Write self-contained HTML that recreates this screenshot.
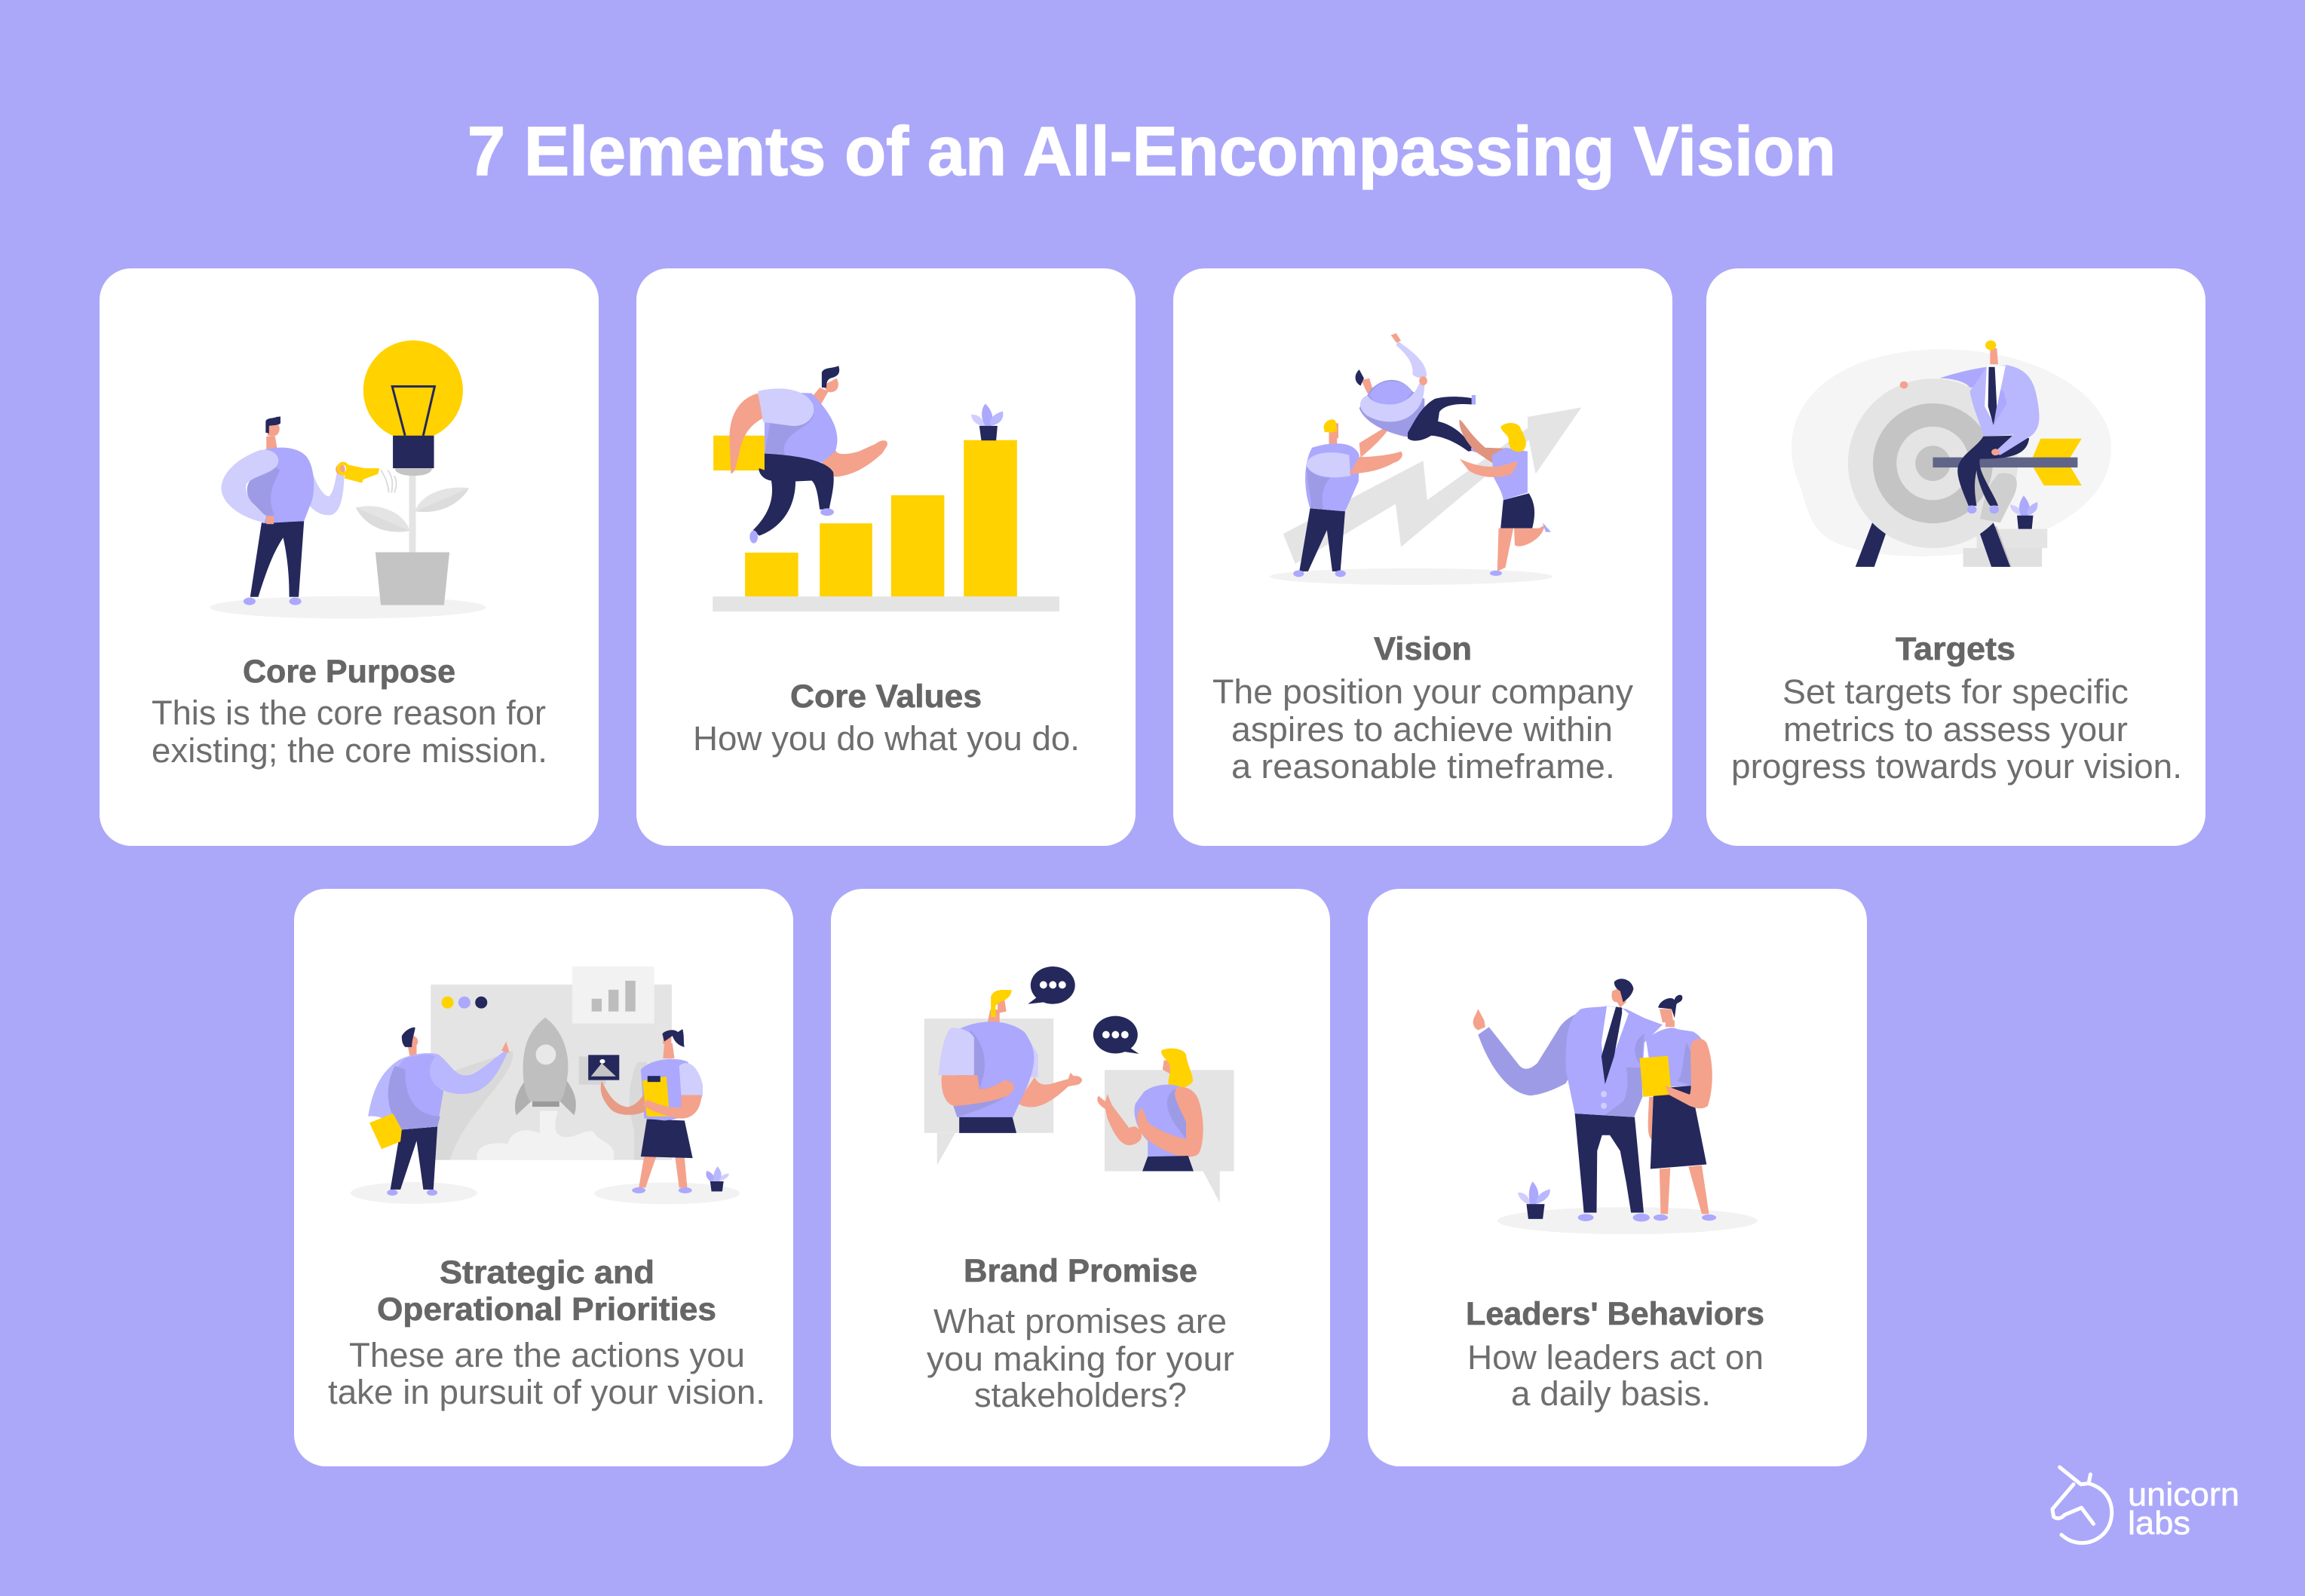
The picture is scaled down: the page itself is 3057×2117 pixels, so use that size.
<!DOCTYPE html>
<html><head><meta charset="utf-8"><title>7 Elements of an All-Encompassing Vision</title>
<style>
html,body{margin:0;padding:0;background:#aba8fa}
svg{display:block}
.h{font:bold 43px "Liberation Sans",sans-serif;fill:#666;stroke:#666;stroke-width:.7px}
.b{font:45px "Liberation Sans",sans-serif;fill:#6e6e6e}
.l{font:44px "Liberation Sans",sans-serif;fill:#fff;stroke:#fff;stroke-width:.6px}
.y{fill:#ffd200}.n{fill:#24285b}.v{fill:#aba8fd}.w{fill:#d0cefd}.m{fill:#b9b7fe}.s{fill:#9e9be6}.k{fill:#f4a28c}
.g1{fill:#f2f2f2}.g2{fill:#e4e4e4}.g3{fill:#c4c4c4}
</style></head>
<body>
<svg xmlns="http://www.w3.org/2000/svg" width="3057" height="2117" viewBox="0 0 3057 2117">
<rect width="3057" height="2117" fill="#aba8fa"/>
<text x="620" y="232" font-family="Liberation Sans,sans-serif" font-weight="bold" font-size="92" fill="#fff" stroke="#fff" stroke-width="1.5" textLength="1815" lengthAdjust="spacingAndGlyphs">7 Elements of an All-Encompassing Vision</text>

<g fill="#fff">
<rect x="132" y="356" width="662" height="766" rx="42"/>
<rect x="844" y="356" width="662" height="766" rx="42"/>
<rect x="1556" y="356" width="662" height="766" rx="42"/>
<rect x="2263" y="356" width="662" height="766" rx="42"/>
<rect x="390" y="1179" width="662" height="766" rx="42"/>
<rect x="1102" y="1179" width="662" height="766" rx="42"/>
<rect x="1814" y="1179" width="662" height="766" rx="42"/>
</g>

<!-- cards 1 & 2 -->
<g transform="translate(130,350) scale(.8929,.4974)">
<ellipse class="g1" cx="371" cy="916" rx="205" ry="30"/>
<rect class="g2" x="462" y="560" width="10" height="210"/>
<polygon class="g3" points="412,769 522,769 514,910 420,910"/>
<path fill="#dcdcdc" d="M471,660C478,620 510,590 551,598C540,635 510,670 471,660z"/>
<path class="g2" d="M471,660L551,598C510,590 478,620 471,660z"/>
<path fill="#dcdcdc" d="M383,650C420,635 455,665 463,712C425,725 395,695 383,650z"/>
<path class="g2" d="M383,650C420,635 455,665 463,712z"/>
<ellipse class="y" cx="468" cy="337" rx="74" ry="133"/>
<path d="M456,458L437,327H500L483,458" fill="none" stroke="#24285b" stroke-width="3" vector-effect="non-scaling-stroke"/>
<rect class="n" x="438" y="458" width="61" height="87"/>
<path class="g3" d="M441,545h55c0,12-10,20-27,20c-17,0-28-8-28-20z"/>
<g fill="none" stroke="#d8d8d8" stroke-width="2" vector-effect="non-scaling-stroke"><path d="M420,550q10,25 12,60"/><path d="M430,550q10,20 6,60"/><path d="M440,565q6,20 0,45"/></g>
<polygon class="k" points="250,460 263,460 266,492 250,497"/>
<path class="k" d="M252,430h16c3,8 2,22-4,28c-4,4-8,2-12,0z"/>
<path class="n" d="M249,450V420C250,410 262,412 265,408L271,407V425C268,432 258,430 254,432V452z"/>
<path class="w" d="M318,555C325,590 335,620 343,620C350,610 352,580 355,555L366,555C365,610 362,665 345,670C330,672 318,655 312,640z"/>
<path class="n" d="M243,690L306,686L298,888H284C284,820 280,770 275,730C260,770 250,820 238,888H226z"/>
<ellipse class="v" cx="225" cy="900" rx="9" ry="10"/><ellipse class="v" cx="293" cy="900" rx="9" ry="10"/>
<path class="v" d="M245,497C265,485 300,485 312,520C322,550 322,600 318,630L306,686L245,692z"/>
<path class="s" d="M262,540C225,560 215,590 225,630L250,675L262,670C250,620 260,590 270,550z"/>
<path class="w" d="M240,497C205,520 183,560 183,600C185,640 210,675 247,690L250,672C225,640 218,610 220,590C225,565 268,560 268,525C268,505 255,492 240,497z"/>
<rect class="k" x="250" y="672" width="11" height="22"/>
<ellipse class="k" cx="360" cy="548" rx="7" ry="14"/>
<ellipse cx="364" cy="546" rx="7" ry="14" fill="none" stroke="#ffd200" stroke-width="4" vector-effect="non-scaling-stroke"/>
<polygon class="y" points="370,535 396,545 418,545 416,560 394,575 392,584 366,572"/>

<rect class="g2" x="913" y="887" width="515" height="40"/>
<rect class="y" x="961" y="770" width="79" height="117"/>
<rect class="y" x="1072" y="692" width="78" height="195"/>
<rect class="y" x="1178" y="617" width="79" height="270"/>
<rect class="y" x="1286" y="470" width="79" height="417"/>
<path class="w" d="M1312,432C1300,425 1297,410 1297,402C1308,400 1315,415 1318,432z"/>
<path class="v" d="M1318,432C1310,410 1312,385 1318,373C1328,390 1332,415 1326,432z"/>
<path class="m" d="M1326,432C1345,425 1345,405 1344,393C1330,400 1322,415 1326,432z"/>
<polygon class="n" points="1309,432 1336,432 1334,471 1312,471"/>
<rect class="y" x="914" y="458" width="76" height="93"/>
<path class="k" d="M980,345C950,360 937,410 938,470L940,560C948,555 948,530 952,510C955,470 965,430 990,410z"/>
<path class="k" d="M1075,530C1085,515 1092,505 1095,495C1097,510 1110,510 1130,500L1155,480C1165,465 1175,470 1172,485L1165,505C1150,530 1125,565 1095,568L1085,560z"/>
<polygon class="k" points="1072,330 1085,340 1072,380 1058,360"/>
<path class="k" d="M1076,325L1097,305C1102,320 1100,340 1090,342C1082,345 1080,330 1076,325z"/>
<path class="n" d="M1075,330V290C1078,275 1090,280 1100,272C1103,290 1100,300 1088,305C1082,310 1082,320 1082,330z"/>
<path class="v" d="M985,340L1060,345C1090,400 1105,450 1095,500L1075,530L990,510V420z"/>
<path class="s" d="M998,425L990,510H1020C1015,470 1030,455 1055,425C1060,415 1065,405 1062,395C1055,425 1020,430 998,425z"/>
<path class="w" d="M980,340C1010,325 1050,330 1062,375C1068,410 1050,435 1030,432L988,422z"/>
<path class="n" d="M990,506C1030,510 1080,520 1092,555C1095,590 1088,630 1086,655H1072C1070,630 1068,590 1060,578L1036,580C1036,640 1020,700 982,725L973,710C995,670 1005,630 1000,578C985,575 980,550 982,545L990,550z"/>
<ellipse class="v" cx="1083" cy="662" rx="10" ry="10"/><ellipse class="v" cx="974" cy="728" rx="6" ry="17"/>
</g>

<!-- cards 3 & 4 -->
<g transform="translate(1550,350) scale(.8929,.4974)">
<ellipse class="g1" cx="360" cy="834" rx="210" ry="22"/>
<polygon class="g2" points="188,800 170,720 378,525 384,630 533,438 533,408 613,383 545,560 535,470 345,755 337,640"/>
<polygon class="n" points="210,652 262,660 255,820 243,820 235,710 207,820 194,820"/>
<ellipse class="v" cx="193" cy="826" rx="8" ry="9"/><ellipse class="v" cx="255" cy="826" rx="8" ry="9"/>
<path class="k" d="M283,478L322,435L325,445C310,480 295,500 285,517z"/>
<rect class="k" x="238" y="440" width="12" height="45"/>
<path class="k" d="M238,425h14v40h-14z"/>
<path class="y" d="M230,435C232,415 245,410 248,420L250,445C240,455 235,445 232,450z"/>
<path class="v" d="M213,490C240,475 275,470 283,510L282,580L262,660L210,652C200,600 200,530 213,490z"/>
<path class="s" d="M205,540C205,600 215,630 210,652L230,655C225,620 230,590 240,570C220,570 210,555 205,540z"/>
<path class="w" d="M205,530C210,505 240,495 268,510L270,565C245,575 215,570 205,540z"/>
<path class="k" d="M283,515C300,515 330,510 345,500C350,510 345,525 335,530C315,550 295,558 268,560z"/>
<path class="w" d="M340,205C355,225 385,260 383,300C375,310 365,300 362,295C365,265 350,235 338,218z"/>
<path class="k" d="M330,190L338,185L345,205L338,210z"/>
<path class="k" d="M286,310L298,305L305,345L295,345z"/>
<path class="n" d="M283,282C275,295 275,315 285,325L290,305z"/>
<path class="s" d="M300,335C320,300 345,300 362,340L380,360V380C375,410 365,450 355,462C320,450 290,420 283,385z"/>
<path class="v" d="M298,350C310,305 345,300 362,340L345,380L310,380z"/>
<path class="w" d="M295,350C282,360 280,385 295,405C320,430 350,425 365,395C378,375 380,340 380,320H372C365,350 350,375 330,375C310,375 300,365 295,350z"/>
<ellipse class="k" cx="378" cy="312" rx="6" ry="12"/>
<path class="n" d="M355,450C365,420 375,380 395,360C415,350 440,355 450,358V375C430,372 410,375 402,395L400,420C425,430 445,465 452,498L445,500C430,480 410,460 390,458C375,475 360,475 355,465z"/>
<rect class="v" x="450" y="350" width="6" height="25"/><ellipse class="v" cx="456" cy="494" rx="7" ry="8"/>
<path fill="#e0937e" d="M432,415C440,425 445,450 470,490L500,492L480,530L455,500C440,470 430,440 432,415z"/>
<path class="k" d="M490,705H512L500,810L488,820z"/>
<path class="k" d="M513,705H550L560,695L555,715C545,745 520,760 514,750z"/>
<ellipse class="v" cx="486" cy="825" rx="9" ry="7"/><path class="v" d="M555,690L568,715H560z"/>
<path class="v" d="M480,510L500,490L533,500V610L497,630C495,600 480,570 482,560z"/>
<path class="n" d="M497,630L535,612C545,640 545,670 540,705H493z"/>
<path class="k" d="M432,520C445,530 465,545 490,540L510,530C525,520 515,540 510,560C490,575 460,570 445,550z"/>
<path class="k" d="M505,440h12v40h-12z"/>
<path class="y" d="M493,435C500,420 520,420 523,440C530,465 535,485 525,500C510,505 505,490 505,470C505,455 495,450 493,435z"/>

<path fill="#f5f5f5" d="M925,490C925,340 1010,228 1150,228C1290,228 1400,350 1400,490C1400,610 1340,700 1240,750C1170,790 1060,790 1000,750C950,720 950,650 935,580C928,550 925,520 925,490z"/>
<rect class="g2" x="1200" y="707" width="105" height="51"/>
<rect fill="#e0e0e0" x="1180" y="758" width="117" height="50"/>
<polygon class="g3" points="1210,700 1230,700 1252,808 1228,808"/>
<path class="n" d="M1045,690L1065,720L1048,808H1020z"/>
<path class="n" d="M1225,690L1205,720L1222,808H1250z"/>
<ellipse class="g2" cx="1135" cy="532" rx="126" ry="226"/>
<ellipse class="g3" cx="1135" cy="532" rx="89" ry="160"/>
<ellipse class="g2" cx="1135" cy="532" rx="54" ry="98"/>
<ellipse class="g3" cx="1135" cy="532" rx="26" ry="47"/>
<path fill="#cfcfcf" d="M1232,560C1260,550 1265,580 1255,620L1235,690L1205,680L1215,600z"/>
<polygon class="y" points="1295,466 1356,466 1335,528 1356,591 1300,591 1280,530"/>
<rect fill="#606488" x="1135" y="516" width="215" height="27"/>
<ellipse class="k" cx="1092" cy="323" rx="6" ry="10"/>
<path class="n" d="M1210,460L1255,458L1278,465C1275,510 1250,520 1205,520C1200,550 1225,610 1232,645H1220C1210,620 1200,570 1200,550C1195,590 1198,620 1200,645H1188C1180,610 1170,570 1172,545C1175,510 1200,490 1210,460z"/>
<ellipse class="v" cx="1193" cy="655" rx="7" ry="11"/><ellipse class="v" cx="1226" cy="655" rx="7" ry="11"/>
<path class="v" d="M1145,305C1170,290 1195,280 1215,275L1210,330H1190C1185,315 1165,305 1145,305z"/>
<path class="m" d="M1245,270C1275,280 1285,310 1290,360C1295,410 1295,440 1280,460L1235,510L1225,505L1255,455L1210,460C1205,420 1195,390 1190,340L1215,275z"/>
<path class="v" d="M1212,380L1225,430L1245,372L1240,340L1228,330z"/>
<path fill="#fff" d="M1215,272H1243L1225,425L1212,380z"/>
<path class="n" d="M1218,275H1227L1230,380L1225,430L1217,380z"/>
<polygon class="k" points="1220,225 1230,225 1232,268 1220,268"/>
<ellipse class="y" cx="1221" cy="217" rx="8" ry="13"/>
<ellipse class="k" cx="1228" cy="502" rx="6" ry="9"/>
<path class="w" d="M1266,671C1255,665 1250,655 1250,642C1260,645 1268,655 1268,671z"/>
<path class="v" d="M1266,671C1260,650 1265,630 1270,618C1278,635 1282,655 1276,671z"/>
<path class="m" d="M1276,671C1290,665 1292,645 1290,635C1280,642 1272,655 1276,671z"/>
<polygon class="n" points="1260,671 1284,671 1282,707 1262,707"/>
</g>

<!-- cards 5 & 6 -->
<g transform="translate(390,1180) scale(.8929,.4974)">
<rect class="g2" x="203" y="253" width="358" height="468"/>
<rect class="g1" x="413" y="205" width="122" height="152"/>
<g fill="#bdbdbd"><rect x="442" y="291" width="15" height="34"/><rect x="467" y="267" width="15" height="58"/><rect x="492" y="243" width="15" height="82"/></g>
<ellipse class="y" cx="228" cy="301" rx="9" ry="16"/><ellipse class="v" cx="253" cy="301" rx="9" ry="16"/><ellipse class="n" cx="278" cy="301" rx="9" ry="16"/>
<path fill="#d9d9d9" d="M325,430C330,500 250,600 232,721H210V500z"/>
<path fill="#d9d9d9" d="M510,460C490,540 500,610 505,640V721H524V460z"/>
<path class="g1" d="M272,721C268,690 285,670 318,678C320,650 340,630 365,650V590H392C385,630 385,660 405,660C420,660 430,640 445,645C450,670 470,670 475,700V721z"/>
<path fill="#b0b0b0" d="M345,505C330,540 325,570 330,602L352,565z"/>
<path fill="#b0b0b0" d="M403,505C418,540 422,570 416,602L395,565z"/>
<path fill="#bfbfbf" d="M373,341C345,380 340,430 340,480C340,530 348,565 352,565H395C400,560 407,510 407,470C407,420 395,370 373,341z"/>
<ellipse fill="#e8e8e8" cx="374" cy="440" rx="15" ry="27"/>
<rect fill="#9a9a9a" x="354" y="565" width="40" height="14"/>
<rect fill="#d4d4d4" x="423" y="445" width="40" height="75"/>
<rect class="n" x="437" y="441" width="46" height="67"/>
<polygon class="g3" points="441,498 457,463 478,498"/>
<ellipse fill="#fff" cx="458" cy="458" rx="4" ry="6"/>
<ellipse class="g1" cx="178" cy="809" rx="94" ry="29"/>
<ellipse class="g1" cx="554" cy="810" rx="108" ry="29"/>
<polygon class="k" points="168,410 182,410 182,445 172,445"/>
<ellipse class="k" cx="176" cy="405" rx="8" ry="15"/>
<path class="n" d="M160,390C165,375 175,365 180,368C178,390 175,400 175,420H165C160,410 160,400 160,390z"/>
<polygon class="n" points="158,640 213,632 207,800 192,800 182,670 158,800 143,800"/>
<ellipse class="v" cx="146" cy="808" rx="8" ry="8"/><ellipse class="v" cx="205" cy="808" rx="8" ry="8"/>
<path class="m" d="M155,455C170,440 200,430 215,440C235,470 240,500 258,495C270,495 290,460 313,430L317,435C305,480 290,545 250,545C235,545 225,540 218,530L213,632L160,640C140,620 130,600 110,605C115,550 125,490 155,455z"/>
<path class="v" d="M165,450C185,440 200,435 210,445C190,490 210,530 222,535L213,632L160,640C135,580 140,490 165,450z"/>
<path class="s" d="M150,470C135,520 135,590 160,640L213,632L217,605C180,600 165,560 165,480z"/>
<path class="k" d="M308,430L315,405L320,435z"/>
<polygon class="y" points="112,622 147,597 160,640 158,672 130,692"/>
<polygon class="k" points="550,410 562,410 565,450 548,450"/>
<path class="k" d="M548,385h12v27h-12z"/>
<path class="n" d="M547,385C550,375 565,370 570,380L577,372C580,390 578,410 580,420C570,415 565,405 562,390L550,405z"/>
<path class="k" d="M520,712H538L522,795H512z"/>
<path class="k" d="M566,714H580L584,795H572z"/>
<ellipse class="v" cx="512" cy="802" rx="10" ry="8"/><ellipse class="v" cx="581" cy="802" rx="10" ry="8"/>
<polygon class="n" points="524,612 580,616 592,716 515,712"/>
<path class="v" d="M515,480C530,450 570,445 585,460L607,540C605,575 590,610 550,616L520,610z"/>
<path class="w" d="M572,470C585,450 600,470 607,520V548H575z"/>
<path fill="#e89b85" d="M457,510C465,540 475,575 495,580C510,575 515,555 520,545L522,590C510,605 480,605 470,585C460,565 452,540 457,510z"/>
<polygon class="y" points="517,510 553,498 558,605 524,605"/>
<rect class="n" x="525" y="497" width="19" height="16"/>
<path class="k" d="M575,548H605C605,580 595,615 570,610C545,600 530,590 518,575L525,560C540,575 565,585 575,580z"/>
<path class="v" d="M618,778C610,765 612,755 613,750C622,755 625,765 625,778z"/>
<path class="m" d="M622,778C622,760 625,748 629,738C636,752 636,768 632,778z"/>
<path class="w" d="M632,778C642,772 646,765 646,757C638,758 632,765 632,778z"/>
<polygon class="n" points="618,778 638,778 636,805 620,805"/>

<rect class="g2" x="936" y="344" width="192" height="305"/>
<polygon class="g2" points="955,649 982,649 955,735"/>
<rect class="g2" x="1204" y="481" width="192" height="270"/>
<polygon class="g2" points="1350,751 1375,751 1375,835"/>
<ellipse class="n" cx="1127" cy="255" rx="33" ry="50"/>
<polygon class="n" points="1105,285 1090,305 1115,300"/>
<g fill="#fff"><ellipse cx="1113" cy="254" rx="5.5" ry="10"/><ellipse cx="1127" cy="254" rx="5.5" ry="10"/><ellipse cx="1141" cy="254" rx="5.5" ry="10"/></g>
<ellipse class="n" cx="1220" cy="387" rx="33" ry="50"/>
<polygon class="n" points="1240,420 1255,438 1232,432"/>
<g fill="#fff"><ellipse cx="1206" cy="387" rx="5.5" ry="10"/><ellipse cx="1220" cy="387" rx="5.5" ry="10"/><ellipse cx="1234" cy="387" rx="5.5" ry="10"/></g>
<path class="k" d="M1030,355L1034,320H1048V355z"/>
<path class="k" d="M1045,295L1055,290L1058,325L1045,330z"/>
<path class="y" d="M1035,340V285C1040,262 1055,268 1066,268C1065,285 1058,295 1048,300L1042,310V340z"/>
<path class="w" d="M1095,410L1105,440V500H1090z"/>
<path class="k" d="M1100,500C1105,520 1115,525 1130,515L1150,505L1153,488L1158,497C1170,495 1175,510 1165,520L1150,525C1135,550 1115,580 1095,580C1080,580 1075,570 1075,565z"/>
<path class="v" d="M990,370C1020,345 1060,345 1085,380C1100,420 1105,450 1090,520L1068,607H985L978,570z"/>
<path class="s" d="M1005,375C1030,420 1030,480 1018,530C1030,535 1060,505 1068,520C1070,550 1040,570 1020,585L985,607L978,570z"/>
<path class="w" d="M975,370C985,365 1005,375 1010,395V495H957C960,440 965,390 975,370z"/>
<path class="k" d="M962,495H1015L1018,532C1035,530 1045,520 1055,508C1070,510 1075,530 1060,550C1040,565 1000,575 980,577C965,570 960,530 962,495z"/>
<polygon class="n" points="988,607 1067,607 1073,649 988,649"/>
<path class="k" d="M1292,455L1302,455L1305,495L1290,480z"/>
<path class="y" d="M1288,430C1295,420 1320,420 1325,440C1327,470 1335,490 1335,510C1330,530 1310,535 1300,525C1295,505 1305,490 1300,465C1295,450 1288,445 1288,430z"/>
<path class="v" d="M1262,540C1275,520 1300,515 1315,525L1340,640L1335,710L1268,712V670C1250,640 1245,590 1250,570z"/>
<path class="s" d="M1310,530C1290,550 1295,590 1310,630L1325,665V620C1315,580 1310,560 1310,530z"/>
<path class="k" d="M1310,530C1320,520 1340,530 1345,570C1352,610 1352,670 1345,700C1340,718 1320,715 1305,705C1285,690 1265,670 1255,640C1250,610 1252,590 1260,582L1268,620C1280,640 1310,660 1325,665V620C1312,570 1305,550 1310,530z"/>
<path class="k" d="M1195,550L1205,565L1208,545L1215,575L1240,635C1250,630 1250,630 1255,640C1265,660 1255,680 1240,682C1225,680 1215,640 1208,610L1205,585C1195,575 1190,560 1195,550z"/>
<polygon class="n" points="1268,712 1328,710 1336,751 1260,751"/>
</g>

<!-- card 7 & logo -->
<g transform="translate(1800,1180) scale(.8017,.5976)">
<ellipse class="g1" cx="447" cy="735" rx="215" ry="30"/>
<path class="w" d="M282,698C270,690 266,680 266,672C278,672 285,682 286,698z"/>
<path class="v" d="M286,698C282,675 285,660 290,648C300,662 303,680 296,698z"/>
<path class="m" d="M296,698C315,690 320,675 319,665C305,670 296,680 296,698z"/>
<polygon class="n" points="280,698 310,698 307,731 283,731"/>
<path class="s" d="M200,322L218,305L268,390C278,405 290,395 298,385L335,305C345,285 370,265 400,262L415,258L345,430C325,445 300,457 285,457C245,450 215,380 200,322z"/>
<path class="k" d="M200,265L210,290L212,305L200,312C190,305 190,290 195,280z"/>
<polygon class="n" points="360,497 459,505 474,717 453,717 445,650 435,580 418,545 405,545 397,580 396,717 375,717"/>
<ellipse class="v" cx="378" cy="728" rx="13" ry="8"/><ellipse class="v" cx="470" cy="728" rx="14" ry="9"/>
<path class="v" d="M370,265C385,260 400,262 415,258L445,265L475,285L505,300L475,340L470,460L458,505L360,497L345,400C345,340 345,290 370,265z"/>
<path class="s" d="M445,395C450,430 445,460 440,470L410,500L458,505L472,460L470,395z"/>
<path class="s" d="M475,320C455,335 455,370 470,390z"/>
<path fill="#fff" d="M413,258L440,265L449,275L410,420L404,340z"/>
<path class="n" d="M428,260L438,262V275L425,370L410,432L404,370z"/>
<ellipse class="w" cx="408" cy="454" rx="5" ry="7"/><ellipse class="w" cx="408" cy="480" rx="5" ry="7"/>
<path class="k" d="M422,225L440,215L445,250L435,262L430,250C420,250 420,235 422,225z"/>
<path class="n" d="M425,205C435,190 455,200 457,220C455,235 445,245 440,250L435,225C430,222 425,215 425,205z"/>
<path class="k" d="M500,620L518,618L514,720H502z"/>
<path class="k" d="M548,615L570,612L582,720H570z"/>
<ellipse class="v" cx="502" cy="728" rx="12" ry="7"/><ellipse class="v" cx="582" cy="728" rx="12" ry="7"/>
<path class="k" d="M483,460L490,460L487,555C480,545 480,530 483,460z"/>
<polygon class="k" points="510,290 525,290 525,305 510,305"/>
<path class="k" d="M500,265L520,265L523,295L505,295z"/>
<path class="n" d="M498,262C500,245 520,235 525,245C525,235 538,228 538,240C538,250 530,250 528,255L525,285L520,265z"/>
<path class="v" d="M478,335C490,315 520,300 530,310L555,315C570,325 580,345 575,380L552,435L490,440z"/>
<path class="s" d="M545,340C538,370 540,410 530,425L552,435L565,400z"/>
<path class="n" d="M490,455L510,440L552,435L578,610L485,620z"/>
<polygon class="y" points="467,374 514,369 520,455 473,460"/>
<path class="k" d="M552,345C555,330 570,325 578,340C590,380 590,440 580,480C570,490 560,485 550,480L515,455L510,435L550,455C555,440 550,380 552,345z"/>
<g fill="none" stroke="#fff" stroke-width="5" stroke-linejoin="round" stroke-linecap="round">
<path vector-effect="non-scaling-stroke" d="M1162,1282L1197,1320L1210,1318L1213,1298M1210,1318C1240,1330 1250,1360 1248,1390C1245,1430 1220,1452 1195,1450C1180,1448 1172,1440 1165,1432"/>
<path vector-effect="non-scaling-stroke" d="M1185,1320L1150,1375L1152,1392C1158,1398 1165,1396 1170,1388L1198,1372L1218,1408"/>
</g>
</g>

<!-- text -->
<text class="h" x="322" y="905" textLength="282" lengthAdjust="spacingAndGlyphs">Core Purpose</text>
<text class="b" x="201" y="961" textLength="523" lengthAdjust="spacingAndGlyphs">This is the core reason for</text>
<text class="b" x="201" y="1011" textLength="525" lengthAdjust="spacingAndGlyphs">existing; the core mission.</text>

<text class="h" x="1048" y="938" textLength="254" lengthAdjust="spacingAndGlyphs">Core Values</text>
<text class="b" x="919" y="995" textLength="513" lengthAdjust="spacingAndGlyphs">How you do what you do.</text>

<text class="h" x="1822" y="875" textLength="130" lengthAdjust="spacingAndGlyphs">Vision</text>
<text class="b" x="1608" y="933" textLength="558" lengthAdjust="spacingAndGlyphs">The position your company</text>
<text class="b" x="1633" y="983" textLength="506" lengthAdjust="spacingAndGlyphs">aspires to achieve within</text>
<text class="b" x="1633" y="1032" textLength="509" lengthAdjust="spacingAndGlyphs">a reasonable timeframe.</text>

<text class="h" x="2514" y="875" textLength="159" lengthAdjust="spacingAndGlyphs">Targets</text>
<text class="b" x="2364" y="933" textLength="459" lengthAdjust="spacingAndGlyphs">Set targets for specific</text>
<text class="b" x="2365" y="983" textLength="457" lengthAdjust="spacingAndGlyphs">metrics to assess your</text>
<text class="b" x="2296" y="1032" textLength="598" lengthAdjust="spacingAndGlyphs">progress towards your vision.</text>

<text class="h" x="583" y="1702" textLength="285" lengthAdjust="spacingAndGlyphs">Strategic and</text>
<text class="h" x="500" y="1751" textLength="450" lengthAdjust="spacingAndGlyphs">Operational Priorities</text>
<text class="b" x="463" y="1813" textLength="525" lengthAdjust="spacingAndGlyphs">These are the actions you</text>
<text class="b" x="435" y="1862" textLength="580" lengthAdjust="spacingAndGlyphs">take in pursuit of your vision.</text>

<text class="h" x="1278" y="1700" textLength="310" lengthAdjust="spacingAndGlyphs">Brand Promise</text>
<text class="b" x="1238" y="1768" textLength="389" lengthAdjust="spacingAndGlyphs">What promises are</text>
<text class="b" x="1229" y="1818" textLength="408" lengthAdjust="spacingAndGlyphs">you making for your</text>
<text class="b" x="1292" y="1866" textLength="282" lengthAdjust="spacingAndGlyphs">stakeholders?</text>

<text class="h" x="1944" y="1757" textLength="396" lengthAdjust="spacingAndGlyphs">Leaders' Behaviors</text>
<text class="b" x="1946" y="1816" textLength="393" lengthAdjust="spacingAndGlyphs">How leaders act on</text>
<text class="b" x="2004" y="1864" textLength="265" lengthAdjust="spacingAndGlyphs">a daily basis.</text>

<text class="l" x="2822" y="1997" textLength="148" lengthAdjust="spacingAndGlyphs">unicorn</text>
<text class="l" x="2822" y="2035" textLength="83" lengthAdjust="spacingAndGlyphs">labs</text>
</svg>
</body></html>
